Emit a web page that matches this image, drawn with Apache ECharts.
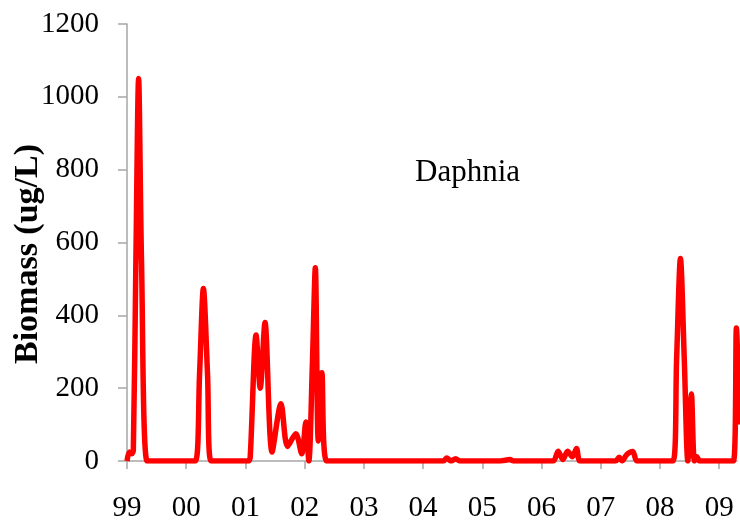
<!doctype html>
<html>
    <head>
        <meta charset="utf-8">
        <title>Daphnia biomass</title>
        <style>
            html, body { margin: 0; padding: 0; background: #fff; }
            #main { width: 740px; height: 527px; }
        </style>
    </head>
    <body>
        <div id="main"></div>
        <script src="https://cdn.jsdelivr.net/npm/echarts@6/dist/echarts.min.js"></script>
        <script>
            // sampling dates (decimal years) and Daphnia biomass (ug/L)
            var years = [
                1999.00, 1999.04, 1999.08, 1999.107, 1999.15, 1999.196, 1999.245,
                1999.34, 1999.50, 1999.75, 2000.00, 2000.155, 2000.225, 2000.29,
                2000.36, 2000.42, 2000.60, 2000.85, 2001.05, 2001.08, 2001.18,
                2001.25, 2001.33, 2001.45, 2001.60, 2001.71, 2001.85, 2001.95,
                2002.02, 2002.07, 2002.13, 2002.18, 2002.23, 2002.29, 2002.37,
                2002.60, 2002.90, 2003.20, 2003.50, 2003.80, 2004.10, 2004.34,
                2004.40, 2004.47, 2004.55, 2004.62, 2004.85, 2005.10, 2005.30,
                2005.47, 2005.53, 2005.80, 2006.05, 2006.20, 2006.28, 2006.36,
                2006.44, 2006.52, 2006.59, 2006.65, 2006.85, 2007.05, 2007.25,
                2007.31, 2007.36, 2007.44, 2007.54, 2007.61, 2007.80, 2008.00,
                2008.22, 2008.28, 2008.345, 2008.41, 2008.47, 2008.53, 2008.58,
                2008.62, 2008.67, 2008.85, 2009.05, 2009.24, 2009.29, 2009.34
            ];
            var biomass = [
                0, 25, 20, 30, 550, 1050, 550,
                0, 0, 0, 0, 0, 237, 474,
                237, 0, 0, 0, 0, 10, 346,
                200, 380, 25, 157, 40, 75, 20,
                107, 0, 265, 531, 55, 242, 0,
                0, 0, 0, 0, 0, 0, 0,
                8, 0, 6, 0, 0, 0, 0,
                4, 0, 0, 0, 0, 27, 4,
                27, 12, 34, 0, 0, 0, 0,
                10, 0, 18, 26, 0, 0, 0,
                0, 278, 556, 278, 0, 184, 0,
                12, 0, 0, 0, 0, 365, 100
            ];
            var yearTicks = [1999, 2000, 2001, 2002, 2003, 2004, 2005, 2006, 2007, 2008, 2009];

            var serif = "'Liberation Serif', 'DejaVu Serif', serif";
            var axisGray = '#a6a6a6';

            var chart = echarts.init(document.getElementById('main'));

            chart.setOption({
                animation: false,
                grid: {
                    left: 127,
                    right: 3,
                    top: 24,
                    bottom: 66,
                    outerBoundsMode: 'none'
                },
                xAxis: {
                    type: 'value',
                    min: 1999,
                    max: 2009.3,
                    axisLine: { show: true, lineStyle: { color: axisGray, width: 1.5 } },
                    axisTick: {
                        show: true,
                        length: 8,
                        customValues: yearTicks,
                        lineStyle: { color: axisGray, width: 1.5 }
                    },
                    axisLabel: {
                        customValues: yearTicks,
                        margin: 33,
                        color: '#000',
                        fontFamily: serif,
                        fontSize: 29,
                        formatter: function (v) {
                            return String(Math.round(v)).slice(2);
                        }
                    },
                    splitLine: { show: false }
                },
                yAxis: {
                    type: 'value',
                    min: 0,
                    max: 1200,
                    interval: 200,
                    axisLine: { show: true, lineStyle: { color: axisGray, width: 1.5 } },
                    axisTick: { show: true, length: 9, lineStyle: { color: axisGray, width: 1.5 } },
                    axisLabel: {
                        margin: 28,
                        color: '#000',
                        fontFamily: serif,
                        fontSize: 29,
                        formatter: function (v) { return String(v); }
                    },
                    splitLine: { show: false }
                },
                graphic: [
                    {
                        type: 'text',
                        x: 28,
                        y: 254,
                        rotation: Math.PI / 2,
                        style: {
                            text: 'Biomass (ug/L)',
                            fontFamily: serif,
                            fontWeight: 'bold',
                            fontSize: 34,
                            fill: '#000',
                            align: 'center',
                            verticalAlign: 'middle'
                        }
                    },
                    {
                        type: 'text',
                        x: 415,
                        y: 173,
                        style: {
                            text: 'Daphnia',
                            fontFamily: serif,
                            fontSize: 31,
                            fill: '#000',
                            align: 'left',
                            verticalAlign: 'middle'
                        }
                    }
                ],
                series: [{
                    type: 'line',
                    data: years.map(function (y, i) { return [y, biomass[i]]; }),
                    smooth: 0.3,
                    showSymbol: false,
                    clip: true,
                    lineStyle: { color: '#ff0000', width: 5.5 },
                    itemStyle: { color: '#ff0000' }
                }]
            });

            window.onresize = chart.resize;
        </script>
    </body>
</html>
